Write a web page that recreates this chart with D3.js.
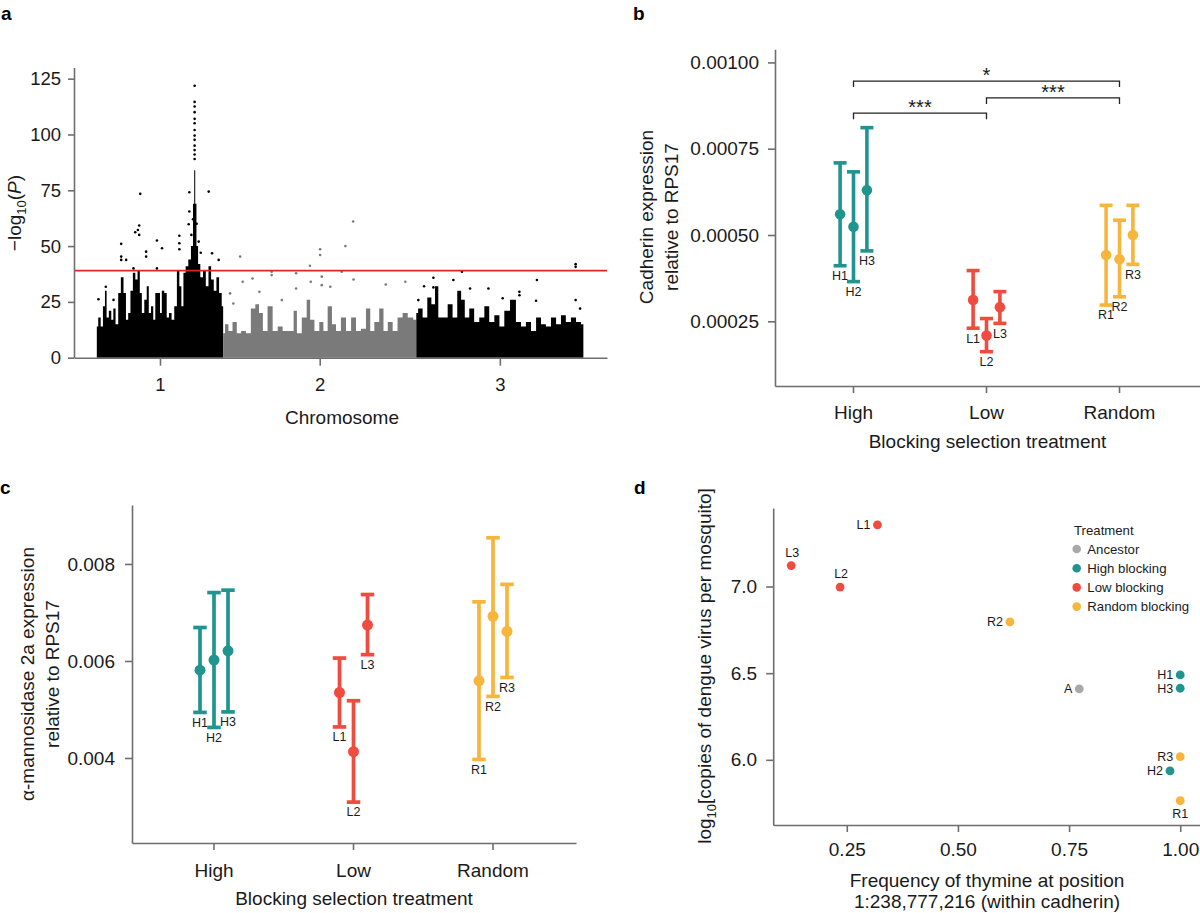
<!DOCTYPE html>
<html><head><meta charset="utf-8">
<script src="https://cdn.jsdelivr.net/npm/d3@7"></script>
<style>
body{margin:0;background:#fff}
svg{display:block}
</style></head><body>
<svg id="fig" width="1200" height="913"></svg>
<script>
// ================= DATA =================
// ---- panel a: Manhattan plot (positions in Mb, cumulative; values are -log10 P) ----
const chromosomes = ["1","2","3"];
const chromStartMb = [0, 310, 784];
const chromEndMb = [310, 784, 1194];
const chromMidMb = [155, 547, 989];
const aTicks = [0, 25, 50, 75, 100, 125];
const threshold = 39;
// upper envelope of the dense SNP cloud
const chr1Pos = [0,7,12,18,22,26,33,38,43,49,56,62,69,74,80,85,92,97,103,108,113,120,125,130,136,141,146,153,157,162,169,174,180,187,193,200,205,210,215,221,228,234,238,240,243,246,251,257,264,271,277,284,290,297,303,310];
const chr1Val = [14,18,14,23,30,18,21,17,22,15,29,36,29,17,20,30,38,35,39,29,20,26,32,20,23,17,29,29,20,30,29,18,20,17,23,39,32,23,38,41,44,50,69,84,69,50,42,36,39,32,41,35,30,36,29,23];
const chr2Pos = [310,319,327,339,348,360,372,384,394,402,413,425,438,450,462,479,487,495,511,519,528,540,552,560,573,581,593,605,618,630,642,654,667,675,687,699,708,720,732,744,757,769,784];
const chr2Val = [11,15,12,16,11,12,11,22,24,20,12,23,12,14,12,12,21,11,18,26,17,12,16,12,23,15,12,18,12,18,12,13,22,12,16,22,12,16,12,18,20,18,17];
const chr3Pos = [784,793,806,816,826,834,842,855,867,879,890,898,908,920,932,945,957,969,982,994,1006,1022,1035,1047,1059,1072,1084,1096,1108,1121,1133,1145,1157,1170,1182,1194];
const chr3Val = [20,22,18,27,24,32,18,18,24,18,30,26,18,22,16,18,23,16,19,14,21,26,16,14,16,12,18,15,14,18,15,19,16,18,16,15];
// isolated SNPs standing above the cloud
const chr1OutPos = [106.6,274.6,240,240,240,240,240,240,240,240,240,240,240,240,240,227,227,225.4,104,100.8,94.3,104,59.8,59.8,59.8,147.5,160,121,121,202.5,202.5,202.5,282.8,299,72,4,22,41,90,147.5,236,232,245,250,255];
const chr1OutVal = [73.4,74.4,121.8,114.6,112.5,110,107,105,102,99.5,97.6,95,93,91,89,74.1,65.5,59.8,59.2,57.2,56.2,55,51,45.3,43.8,52.5,49,47.5,45.3,54.6,51.3,48.6,46.8,43.8,43.8,26.2,31.8,25.9,40,40,62,55,60,52,47];
const chr2OutPos = [351.7,548,548,629,610,523,552,552,429,429,489,489,601,630,709,757,382,358,327,335,454,573,525,399];
const chr2OutVal = [45.3,48.6,46,61,50,41.2,36.3,32.5,38.5,37,37.8,31,38.5,35,32.8,34,35.5,34,28.8,24.3,25.8,31.8,34,29.5];
const chr3OutPos = [826,826,896,803,875,916,961,1080,1078,1037,1037,1175,1175,1175,1186,996,789];
const chr3OutVal = [35.8,31.5,38.5,32,34.8,31,31,34.8,25.5,29.5,28,41.9,40.7,25.8,22,26.6,25.8];

// ---- panels b and c: expression by selection line ----
const treatments = ["High","Low","Random"];
const lineNames = ["H1","H2","H3","L1","L2","L3","R1","R2","R3"];
const lineTreatment = ["High","High","High","Low","Low","Low","Random","Random","Random"];
const lineReplicate = [1,2,3,1,2,3,1,2,3];
const cadMean = [0.000560,0.000524,0.000630,0.000312,0.000209,0.000291,0.000442,0.000430,0.000500];
const cadLow  = [0.000411,0.000365,0.000454,0.000230,0.000162,0.000244,0.000297,0.000321,0.000415];
const cadHigh = [0.000709,0.000683,0.000811,0.000397,0.000258,0.000336,0.000586,0.000543,0.000586];
const cadTicks = [0.00025,0.0005,0.00075,0.001];
const sigFrom = ["High","High","Low"];
const sigTo = ["Random","Low","Random"];
const sigLevel = [0.000946,0.000853,0.000897];
const sigText = ["*","***","***"];
const manMean = [0.00581,0.00602,0.00621,0.00535,0.00413,0.00674,0.00559,0.00692,0.00661];
const manLow  = [0.00494,0.00463,0.00495,0.00464,0.00309,0.00613,0.00397,0.00527,0.00566];
const manHigh = [0.00669,0.00741,0.00746,0.00606,0.00518,0.00737,0.00722,0.00854,0.00758];
const manTicks = [0.004,0.006,0.008];

// ---- panel d ----
const dLines = ["L1","L3","L2","R2","A","H1","H3","R3","H2","R1"];
const dGroup = ["Low","Low","Low","Random","Ancestor","High","High","Random","High","Random"];
const thymineFreq = [0.319,0.125,0.235,0.617,0.773,1.0,1.0,1.0,0.977,1.0];
const dengueLog = [7.356,7.121,6.997,6.796,6.409,6.490,6.413,6.018,5.936,5.764];
const dXTicks = [0.25,0.5,0.75,1.0];
const dYTicks = [6.0,6.5,7.0];
const legendKeys = ["Ancestor","High","Low","Random"];
const legendLabels = ["Ancestor","High blocking","Low blocking","Random blocking"];

// ================= STYLE =================
const FONT = '"Liberation Sans", Arial, Helvetica, sans-serif';
const AXIS = "#6e6e6e";
const INK = "#1a1a1a";
const groupColor = {High:"#20958f", Low:"#f04b3f", Random:"#f8b53b", Ancestor:"#a9a9a9"};
const chromColor = ["#000000","#7a7a7a","#000000"];

const svg = d3.select("#fig").attr("font-family", FONT);

function styleAxis(g, fs){
  g.attr("font-family", FONT).attr("font-size", fs);
  g.select(".domain").attr("stroke", AXIS).attr("stroke-width", 1.6);
  g.selectAll(".tick line").attr("stroke", AXIS).attr("stroke-width", 1.6);
  g.selectAll(".tick text").attr("fill", INK);
}
function panelLetter(t, x, y){
  svg.append("text").attr("x", x).attr("y", y).attr("font-size", 19).attr("font-weight", "bold").attr("fill", "#000").text(t);
}

// ================= PANEL a =================
{
  const xA = d3.scaleLinear().domain([-56, 1252]).range([74, 607]);
  const yA = d3.scaleLinear().domain([0, 130]).range([357.7, 67.5]);
  const g = svg.append("g");
  const env = [[chr1Pos, chr1Val],[chr2Pos, chr2Val],[chr3Pos, chr3Val]];
  const outs = [[chr1OutPos, chr1OutVal],[chr2OutPos, chr2OutVal],[chr3OutPos, chr3OutVal]];
  const area = d3.area().x(d => xA(d[0])).y0(yA(0)).y1(d => yA(d[1])).curve(d3.curveStep);
  env.forEach((e, i) => {
    const pts = e[0].map((p, k) => [p, e[1][k]]);
    g.append("path").attr("d", area(pts)).attr("fill", chromColor[i]);
  });
  outs.forEach((o, i) => {
    g.selectAll(null).data(o[0].map((p, k) => [p, o[1][k]])).enter().append("circle")
      .attr("cx", d => xA(d[0])).attr("cy", d => yA(d[1])).attr("r", 1.3).attr("fill", chromColor[i]);
  });
  g.append("line").attr("x1", xA(-56)).attr("x2", xA(1252)).attr("y1", yA(threshold)).attr("y2", yA(threshold))
    .attr("stroke", "#e2232a").attr("stroke-width", 1.6);
  const ya = svg.append("g").attr("transform", "translate(74,0)")
    .call(d3.axisLeft(yA).tickValues(aTicks).tickSize(6).tickPadding(7).tickSizeOuter(0));
  styleAxis(ya, 18.5);
  const xa = svg.append("g").attr("transform", "translate(0,357.7)")
    .call(d3.axisBottom(xA).tickValues(chromMidMb).tickFormat((d, i) => chromosomes[i]).tickSize(8).tickPadding(12).tickSizeOuter(0));
  styleAxis(xa, 18.5);
  svg.append("text").attr("x", 342).attr("y", 424).attr("text-anchor", "middle").attr("font-size", 19).attr("fill", INK).text("Chromosome");
  const t = svg.append("text").attr("transform", "translate(21,213) rotate(-90)").attr("text-anchor", "middle").attr("font-size", 19).attr("fill", INK);
  t.append("tspan").text("\u2212log");
  t.append("tspan").attr("font-size", 13).attr("dy", 5).text("10");
  t.append("tspan").attr("dy", -5).text("(");
  t.append("tspan").attr("font-style", "italic").text("P");
  t.append("tspan").text(")");
  panelLetter("a", 1, 20);
}

// ================= helper for b and c =================
function errorPanel(opts){
  const {x, y, off, mean, low, high, capW, lw, r} = opts;
  const g = svg.append("g");
  lineNames.forEach((nm, i) => {
    const cx = x(lineTreatment[i]) + (lineReplicate[i] - 2) * off;
    const col = groupColor[lineTreatment[i]];
    g.append("line").attr("x1", cx).attr("x2", cx).attr("y1", y(low[i])).attr("y2", y(high[i])).attr("stroke", col).attr("stroke-width", lw);
    [low[i], high[i]].forEach(v => {
      g.append("line").attr("x1", cx - capW/2).attr("x2", cx + capW/2).attr("y1", y(v)).attr("y2", y(v)).attr("stroke", col).attr("stroke-width", lw);
    });
    g.append("circle").attr("cx", cx).attr("cy", y(mean[i])).attr("r", r).attr("fill", col);
    g.append("text").attr("x", cx).attr("y", y(low[i]) + 10).attr("dy", "0.35em").attr("text-anchor", "middle")
      .attr("font-size", 12.5).attr("fill", INK).text(nm);
  });
}

// ================= PANEL b =================
{
  const xB = d3.scalePoint().domain(treatments).range([853.5, 1119.5]);
  const yB = d3.scaleLinear().domain([0.0000626, 0.001038]).range([386, 49.3]);
  const ya = svg.append("g").attr("transform", "translate(775,0)")
    .call(d3.axisLeft(yB).tickValues(cadTicks).tickFormat(d3.format(".5f")).tickSize(7).tickPadding(9).tickSizeOuter(0));
  styleAxis(ya, 19);
  const xa = svg.append("g").attr("transform", "translate(0,386)");
  xa.call(d3.axisBottom(d3.scaleLinear().domain([775, 1200]).range([775, 1200])).tickValues([]).tickSizeOuter(0));
  xa.selectAll(null).data(treatments).enter().append("line")
    .attr("x1", d => xB(d)).attr("x2", d => xB(d)).attr("y1", 0).attr("y2", 7);
  xa.selectAll(null).data(treatments).enter().append("text")
    .attr("x", d => xB(d)).attr("y", 26).attr("dy", "0.35em").attr("text-anchor", "middle").text(d => d);
  styleAxis(xa, 19);
  xa.selectAll("line").attr("stroke", AXIS).attr("stroke-width", 1.6);
  xa.selectAll("text").attr("fill", INK);
  errorPanel({x: xB, y: yB, off: 13.4, mean: cadMean, low: cadLow, high: cadHigh, capW: 13, lw: 3.6, r: 5.3});
  // significance brackets
  sigFrom.forEach((f, i) => {
    const x1 = xB(f), x2 = xB(sigTo[i]), yy = yB(sigLevel[i]);
    svg.append("path").attr("d", `M${x1},${yy+6}V${yy}H${x2}V${yy+6}`).attr("fill", "none").attr("stroke", "#222").attr("stroke-width", 1.3);
    svg.append("text").attr("x", (x1 + x2) / 2).attr("y", yy + 1).attr("text-anchor", "middle").attr("font-size", 20).attr("fill", INK).text(sigText[i]);
  });
  svg.append("text").attr("x", 987.5).attr("y", 448).attr("text-anchor", "middle").attr("font-size", 19).attr("fill", INK).text("Blocking selection treatment");
  const t = svg.append("text").attr("transform", "translate(657,217) rotate(-90)").attr("text-anchor", "middle").attr("font-size", 19).attr("fill", INK);
  t.append("tspan").attr("x", 0).attr("dy", "-0.2em").text("Cadherin expression");
  t.append("tspan").attr("x", 0).attr("dy", "1.3em").text("relative to RPS17");
  panelLetter("b", 633, 20);
}

// ================= PANEL c =================
{
  const xC = d3.scalePoint().domain(treatments).range([214, 493]);
  const yC = d3.scaleLinear().domain([0.002247, 0.009216]).range([843, 505]);
  const ya = svg.append("g").attr("transform", "translate(132,0)")
    .call(d3.axisLeft(yC).tickValues(manTicks).tickFormat(d3.format(".3f")).tickSize(7).tickPadding(10).tickSizeOuter(0));
  styleAxis(ya, 19);
  const xa = svg.append("g").attr("transform", "translate(0,843)");
  xa.call(d3.axisBottom(d3.scaleLinear().domain([132, 576]).range([132, 576])).tickValues([]).tickSizeOuter(0));
  xa.selectAll(null).data(treatments).enter().append("line")
    .attr("x1", d => xC(d)).attr("x2", d => xC(d)).attr("y1", 0).attr("y2", 7);
  xa.selectAll(null).data(treatments).enter().append("text")
    .attr("x", d => xC(d)).attr("y", 27).attr("dy", "0.35em").attr("text-anchor", "middle").text(d => d);
  styleAxis(xa, 19);
  xa.selectAll("line").attr("stroke", AXIS).attr("stroke-width", 1.6);
  xa.selectAll("text").attr("fill", INK);
  errorPanel({x: xC, y: yC, off: 14, mean: manMean, low: manLow, high: manHigh, capW: 13.5, lw: 3.7, r: 5.5});
  svg.append("text").attr("x", 354).attr("y", 905).attr("text-anchor", "middle").attr("font-size", 19).attr("fill", INK).text("Blocking selection treatment");
  const t = svg.append("text").attr("transform", "translate(38,674) rotate(-90)").attr("text-anchor", "middle").attr("font-size", 19).attr("fill", INK);
  t.append("tspan").attr("x", 0).attr("dy", "-0.2em").text("\u03b1-mannosidase 2a expression");
  t.append("tspan").attr("x", 0).attr("dy", "1.3em").text("relative to RPS17");
  panelLetter("c", 0, 494);
}

// ================= PANEL d =================
{
  const xD = d3.scaleLinear().domain([0.0845, 1.0445]).range([773.2, 1200]);
  const yD = d3.scaleLinear().domain([5.624, 7.453]).range([825, 508]);
  const ya = svg.append("g").attr("transform", "translate(773.2,0)")
    .call(d3.axisLeft(yD).tickValues(dYTicks).tickFormat(d3.format(".1f")).tickSize(7).tickPadding(9).tickSizeOuter(0));
  styleAxis(ya, 19);
  const xa = svg.append("g").attr("transform", "translate(0,825)")
    .call(d3.axisBottom(xD).tickValues(dXTicks).tickFormat(d3.format(".2f")).tickSize(7).tickPadding(11).tickSizeOuter(0));
  styleAxis(xa, 19);
  const side = {L1:"left", L3:"above", L2:"above", R2:"left", A:"left", H1:"left", H3:"left", R3:"left", H2:"left", R1:"below"};
  dLines.forEach((nm, i) => {
    const cx = xD(thymineFreq[i]), cy = yD(dengueLog[i]);
    svg.append("circle").attr("cx", cx).attr("cy", cy).attr("r", 4.4).attr("fill", groupColor[dGroup[i]]);
    const t = svg.append("text").attr("font-size", 12.5).attr("fill", INK).attr("dy", "0.35em").text(nm);
    if (side[nm] === "left") t.attr("x", cx - 7).attr("y", cy).attr("text-anchor", "end");
    else if (side[nm] === "above") t.attr("x", cx + 1).attr("y", cy - 13).attr("text-anchor", "middle");
    else t.attr("x", cx).attr("y", cy + 13).attr("text-anchor", "middle");
  });
  // legend
  svg.append("text").attr("x", 1074).attr("y", 530).attr("dy", "0.35em").attr("font-size", 13.2).attr("fill", INK).text("Treatment");
  legendKeys.forEach((k, i) => {
    const yy = 549 + i * 19.2;
    svg.append("circle").attr("cx", 1076.7).attr("cy", yy).attr("r", 4.3).attr("fill", groupColor[k]);
    svg.append("text").attr("x", 1087.3).attr("y", yy).attr("dy", "0.35em").attr("font-size", 13.2).attr("fill", INK).text(legendLabels[i]);
  });
  const xt = svg.append("text").attr("text-anchor", "middle").attr("font-size", 19).attr("fill", INK);
  xt.append("tspan").attr("x", 987).attr("y", 887).text("Frequency of thymine at position");
  xt.append("tspan").attr("x", 987).attr("y", 908).text("1:238,777,216 (within cadherin)");
  const t = svg.append("text").attr("transform", "translate(711,666) rotate(-90)").attr("text-anchor", "middle").attr("font-size", 19).attr("fill", INK);
  t.append("tspan").text("log");
  t.append("tspan").attr("font-size", 13).attr("dy", 5).text("10");
  t.append("tspan").attr("dy", -5).text("[copies of dengue virus per mosquito]");
  panelLetter("d", 634, 494);
}
</script>
</body></html>
